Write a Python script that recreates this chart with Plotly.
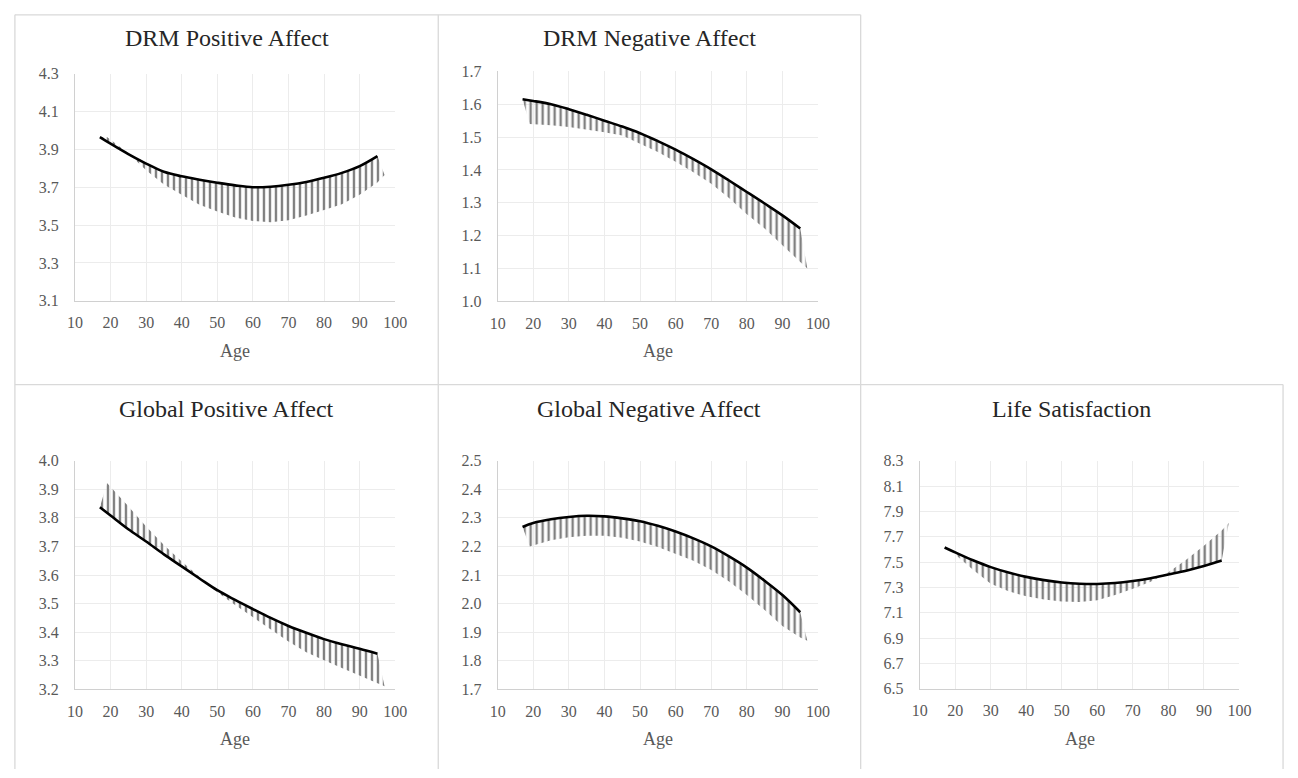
import plotly.graph_objects as go

W, H = 1298, 778

titles = ["DRM Positive Affect", "DRM Negative Affect", "Global Positive Affect",
          "Global Negative Affect", "Life Satisfaction"]

black_ages = [17, 20, 25, 30, 35, 40, 45, 50, 55, 60, 65, 70, 75, 80, 85, 90, 95]
gray_ages = [19, 25, 30, 35, 40, 45, 50, 55, 60, 65, 70, 75, 80, 85, 90, 95, 97]

drm_pos_black = [3.965, 3.93, 3.875, 3.825, 3.782, 3.758, 3.740, 3.724, 3.710, 3.700,
                 3.703, 3.713, 3.728, 3.750, 3.776, 3.812, 3.865]
drm_pos_gray = [3.965, 3.88, 3.79, 3.715, 3.66, 3.607, 3.572, 3.54, 3.522, 3.515,
                3.525, 3.55, 3.58, 3.61, 3.66, 3.725, 3.765]

drm_neg_black = [1.615, 1.61, 1.60, 1.585, 1.568, 1.55, 1.532, 1.512, 1.488, 1.462,
                 1.433, 1.402, 1.368, 1.333, 1.298, 1.262, 1.222]
drm_neg_gray = [1.54, 1.536, 1.531, 1.524, 1.515, 1.505, 1.48, 1.455, 1.425, 1.393,
                1.358, 1.315, 1.265, 1.222, 1.172, 1.12, 1.10]

glob_pos_black = [3.837, 3.808, 3.76, 3.717, 3.672, 3.63, 3.588, 3.547, 3.513, 3.481,
                  3.45, 3.422, 3.398, 3.376, 3.358, 3.342, 3.325]
glob_pos_gray = [3.922, 3.84, 3.77, 3.705, 3.647, 3.592, 3.54, 3.495, 3.452, 3.41,
                 3.368, 3.33, 3.302, 3.275, 3.25, 3.222, 3.211]

glob_neg_black = [2.268, 2.282, 2.295, 2.303, 2.307, 2.305, 2.298, 2.288, 2.272, 2.252,
                  2.228, 2.20, 2.165, 2.126, 2.08, 2.03, 1.97]
glob_neg_gray = [2.20, 2.222, 2.232, 2.237, 2.237, 2.23, 2.217, 2.198, 2.175, 2.15,
                 2.118, 2.077, 2.03, 1.978, 1.922, 1.882, 1.87]

life_black = [7.616, 7.577, 7.515, 7.461, 7.418, 7.384, 7.358, 7.34, 7.33, 7.328,
              7.335, 7.351, 7.373, 7.403, 7.433, 7.469, 7.513]
life_gray = [7.585, 7.44, 7.33, 7.27, 7.23, 7.205, 7.19, 7.185, 7.20, 7.24,
             7.29, 7.345, 7.42, 7.52, 7.63, 7.75, 7.81]

y_ranges = [(3.1, 4.3, 0.2), (1.0, 1.7, 0.1), (3.2, 4.0, 0.1), (1.7, 2.5, 0.1), (6.5, 8.3, 0.2)]
x_range = (10, 100, 10)

blacks = [drm_pos_black, drm_neg_black, glob_pos_black, glob_neg_black, life_black]
grays = [drm_pos_gray, drm_neg_gray, glob_pos_gray, glob_neg_gray, life_gray]

# layout in pixels (converted to paper fractions)
plot_x = [(68, 393.3), (497.3, 822.7), (68, 393.3), (497.3, 822.7), (926, 1250.7)]
plot_y = [(67.2, 299.3), (64.8, 300.0), (462.7, 696.7), (462.7, 696.7), (463.0, 696.0)]
title_pos = [(222, 31), (651.5, 31), (222, 410), (651.5, 410), (1080.5, 410)]

FONT = "Liberation Serif"
GRID = "#ececec"
AXIS = "#d0d0d0"
BORDER = "#d9d9d9"

fig = go.Figure()
layout = dict(width=W, height=H, margin=dict(l=0, r=0, t=0, b=0, pad=0),
              paper_bgcolor="white", plot_bgcolor="white", showlegend=False)
annotations = []

for i in range(5):
    n = "" if i == 0 else str(i + 1)
    xa, ya = "x" + n, "y" + n
    bx, by = blacks[i], grays[i]
    # hatched band between the two curves
    fig.add_trace(go.Scatter(
        x=black_ages + gray_ages[::-1], y=bx + by[::-1],
        xaxis=xa, yaxis=ya, mode="lines", fill="toself",
        line=dict(width=0, color="rgba(0,0,0,0)"),
        fillcolor="rgba(0,0,0,0)",
        fillpattern=dict(shape="|", size=6, solidity=0.4, fgcolor="#808080",
                         bgcolor="rgba(0,0,0,0)", fillmode="replace"),
        hoverinfo="skip"))
    fig.add_trace(go.Scatter(
        x=black_ages, y=bx, xaxis=xa, yaxis=ya, mode="lines",
        line=dict(color="black", width=2.6, shape="spline", smoothing=1.0)))

    x0, x1 = plot_x[i]
    y0, y1 = plot_y[i]
    lo, hi, dt = y_ranges[i]
    layout["xaxis" + n] = dict(
        domain=[x0 / W, x1 / W], anchor=ya, range=[x_range[0], x_range[1]],
        dtick=x_range[2], tick0=10, showgrid=True, gridcolor=GRID, gridwidth=1,
        showline=True, linecolor=AXIS, linewidth=1, zeroline=False,
        ticks="outside", ticklen=7, tickcolor="rgba(0,0,0,0)",
        tickfont=dict(family=FONT, size=16, color="#595959"), fixedrange=True)
    layout["yaxis" + n] = dict(
        domain=[1 - y1 / H, 1 - y0 / H], anchor=xa, range=[lo, hi],
        dtick=dt, tick0=lo, tickformat=".1f", showgrid=True, gridcolor=GRID,
        gridwidth=1, showline=True, linecolor=AXIS, linewidth=1, zeroline=False,
        ticks="outside", ticklen=12, tickcolor="rgba(0,0,0,0)",
        tickfont=dict(family=FONT, size=16, color="#595959"), fixedrange=True)
    tx, ty = title_pos[i]
    annotations.append(dict(text=titles[i], x=tx / W, y=1 - ty / H, xref="paper",
                            yref="paper", showarrow=False, xanchor="center",
                            yanchor="middle",
                            font=dict(family=FONT, size=24, color="#262626")))
    annotations.append(dict(text="Age", x=(x0 + x1) / 2 / W, y=1 - (y1 + 51) / H,
                            xref="paper", yref="paper", showarrow=False,
                            xanchor="center", yanchor="middle",
                            font=dict(family=FONT, size=18, color="#595959")))

# panel borders
lines = [
    (7, 7, 866, 7), (7, 385, 1295, 385),
    (7, 7, 7, 778), (437, 7, 437, 778), (866, 7, 866, 778), (1295, 385, 1295, 778),
]
shapes = [dict(type="line", xref="paper", yref="paper", x0=a / W, y0=1 - b / H,
               x1=c / W, y1=1 - d / H, line=dict(color=BORDER, width=1.3))
          for a, b, c, d in lines]

layout["annotations"] = annotations
layout["shapes"] = shapes
fig.update_layout(**layout)
fig.write_html(
    "out.html",
    config={"displayModeBar": False},
    post_script="document.body.style.margin='0';"
                "document.body.style.padding='0';"
                "document.body.style.overflow='hidden';")
